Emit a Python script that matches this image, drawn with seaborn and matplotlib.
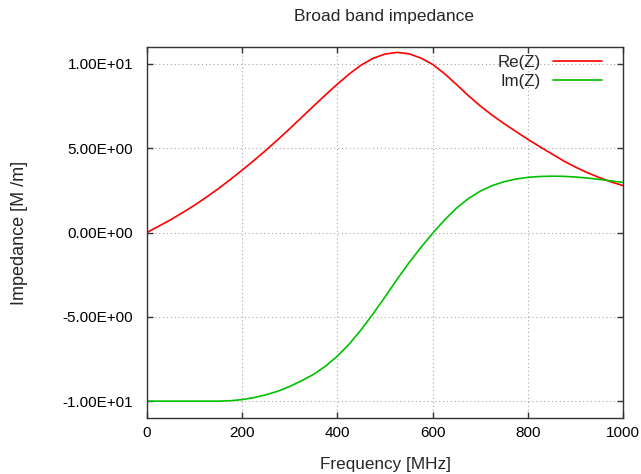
import matplotlib
matplotlib.use("Agg")
import matplotlib.pyplot as plt
import seaborn as sns
import pandas as pd

# Frequency grid [MHz]
freq = [0, 25, 50, 75, 100, 125, 150, 175, 200, 225, 250, 275, 300, 325, 350,
        375, 400, 425, 450, 475, 500, 525, 550, 575, 600, 625, 650, 675, 700,
        725, 750, 775, 800, 825, 850, 875, 900, 925, 950, 975, 1000]

# Real part of the impedance
re_z = [0.0, 0.38, 0.76, 1.18, 1.62, 2.10, 2.60, 3.14, 3.70, 4.28, 4.88, 5.51,
        6.16, 6.83, 7.50, 8.16, 8.80, 9.40, 9.93, 10.33, 10.58, 10.68, 10.60,
        10.35, 9.97, 9.42, 8.78, 8.12, 7.51, 6.96, 6.46, 5.99, 5.53, 5.09, 4.67,
        4.25, 3.88, 3.55, 3.26, 3.00, 2.78]

# Imaginary part of the impedance
im_z = [-10.0, -10.0, -10.0, -10.0, -10.0, -10.0, -10.0, -9.975, -9.91, -9.79,
        -9.625, -9.41, -9.125, -8.79, -8.41, -7.93, -7.33, -6.61, -5.76, -4.82,
        -3.82, -2.79, -1.81, -0.90, -0.05, 0.74, 1.44, 2.01, 2.45, 2.78, 3.01,
        3.17, 3.27, 3.32, 3.34, 3.33, 3.29, 3.23, 3.15, 3.06, 2.97]

series_names = ["Re(Z)", "Im(Z)"]
series_colors = ["#ff0000", "#00c000"]

df = pd.concat([
    pd.DataFrame({"Frequency": freq, "Impedance": re_z, "part": series_names[0]}),
    pd.DataFrame({"Frequency": freq, "Impedance": im_z, "part": series_names[1]}),
], ignore_index=True)

sns.set_theme(style="white")
plt.rcParams["font.family"] = ["Liberation Sans", "DejaVu Sans"]
plt.rcParams["font.size"] = 11

fig = plt.figure(figsize=(6.41, 4.74), dpi=100)
ax = fig.add_axes([147 / 641, 1 - 418 / 474, 476 / 641, 371 / 474])

sns.lineplot(data=df, x="Frequency", y="Impedance", hue="part",
             palette=dict(zip(series_names, series_colors)),
             linewidth=1.2, ax=ax, legend=False, sort=False)

ax.set_xlim(0, 1000)
ax.set_ylim(-11, 11)
ax.set_xticks([0, 200, 400, 600, 800, 1000])
ax.set_yticks([-10, -5, 0, 5, 10])
ax.set_yticklabels(["{:.2E}".format(v) for v in [-10, -5, 0, 5, 10]])

ax.grid(True, color="#a8a8a8", linestyle=(0, (1, 2.5)), linewidth=0.8)
for s in ax.spines.values():
    s.set_color("#333333")
    s.set_linewidth(1.0)
    s.set_visible(True)

ax.tick_params(direction="in", length=4, width=1, color="#333333",
               top=True, right=True, bottom=True, left=True,
               labelsize=11, labelcolor="black")
ax.tick_params(axis="y", pad=10)
ax.tick_params(axis="x", pad=6)

ax.set_xlabel("Frequency [MHz]", fontsize=12.3, labelpad=12)
ax.set_ylabel("Impedance [M /m]", fontsize=13, labelpad=25)

fig.text(384 / 641, 1 - 16 / 474, "Broad band impedance", ha="center",
         va="center", fontsize=12.5)

handles = [plt.Line2D([], [], color=c, linewidth=1.2) for c in series_colors]
ax.legend(handles, series_names, loc="upper right", frameon=False,
          markerfirst=False, handlelength=2.9, handletextpad=0.7,
          labelspacing=0.25, borderpad=0, borderaxespad=0,
          bbox_to_anchor=(0.956, 0.978), fontsize=12.2)

fig.savefig("out.png", dpi=100)
